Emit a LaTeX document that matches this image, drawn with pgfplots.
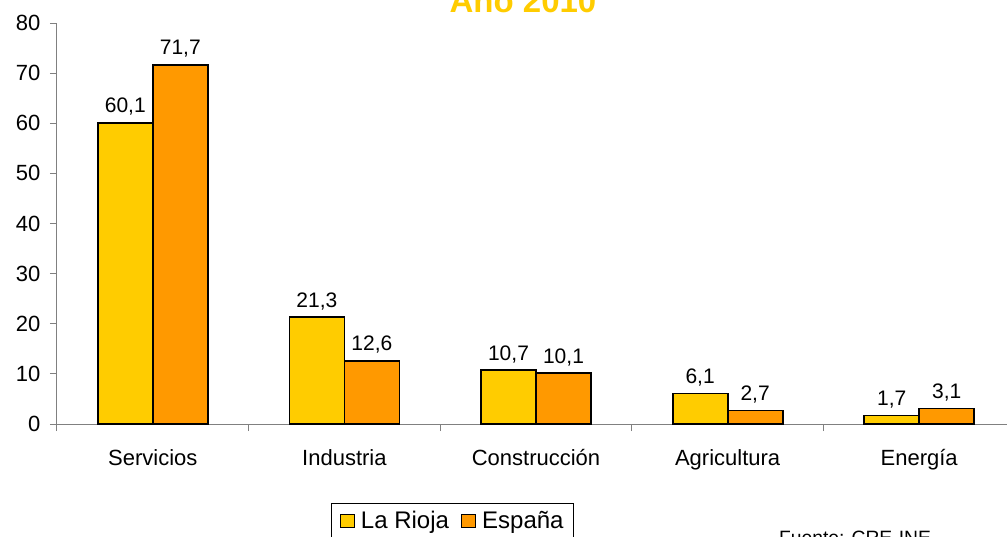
\documentclass[border=0pt]{standalone}
\usepackage{pgfplots}
\pgfplotsset{compat=1.18}
\usepackage{fontspec}
\setmainfont{Liberation Sans}
\definecolor{cyel}{RGB}{255,204,0}
\definecolor{corg}{RGB}{255,153,0}
\definecolor{axgray}{RGB}{128,128,128}
\begin{document}
\begin{tikzpicture}[x=1pt,y=1pt]
\path[use as bounding box] (0,0) rectangle (1007,536);
\begin{axis}[
  at={(57pt,112pt)}, anchor=south west, scale only axis,
  width=958pt, height=401pt,
  xmin=-0.5, xmax=4.5, ymin=0, ymax=80,
  ybar=0pt, bar width=55pt,
  xtick={0,...,4},
  xticklabels={Servicios,Industria,Construcción,Agricultura,Energía},
  minor xtick={-0.5,0.5,...,4.5},
  ytick={0,10,...,80},
  axis x line*=bottom, axis y line*=left,
  axis line style={-, draw=axgray, line width=1pt},
  tick align=outside,
  major tick length=7pt, minor tick length=7pt,
  x tick style={draw=none},
  minor x tick style={draw=axgray, line width=1pt},
  y tick style={draw=axgray, line width=1pt},
  /pgf/number format/assume math mode=true,
  ticklabel style={font=\fontsize{22}{26}\selectfont},
  xticklabel style={yshift=-15pt},
  yticklabel style={xshift=-6pt},
  nodes near coords,
  nodes near coords style={/pgf/number format/use comma, /pgf/number format/fixed, /pgf/number format/fixed zerofill, /pgf/number format/precision=1, /pgf/number format/assume math mode=true},
  every node near coord/.append style={font=\fontsize{21}{24}\selectfont, yshift=3pt, black},
  legend columns=2,
  legend style={at={(0.413,-0.197)}, anchor=north, draw=black, line width=0.8pt,
    font=\fontsize{24}{28}\selectfont, inner xsep=8pt, inner ysep=6pt,
    nodes={inner sep=2pt},
    /tikz/every odd column/.append style={column sep=4pt},
    /tikz/every even column/.append style={column sep=10pt}},
]
\addplot[fill=cyel, draw=black, line width=1.8pt,
  legend image code/.code={\draw[fill=cyel,draw=black,line width=1.2pt] (0pt,-6.5pt) rectangle (14pt,6.5pt);}]
  coordinates {(0,60.1) (1,21.3) (2,10.7) (3,6.1) (4,1.7)};
\addplot[fill=corg, draw=black, line width=1.8pt,
  legend image code/.code={\draw[fill=corg,draw=black,line width=1.2pt] (0pt,-6.5pt) rectangle (14pt,6.5pt);}]
  coordinates {(0,71.7) (1,12.6) (2,10.1) (3,2.7) (4,3.1)};
\legend{La Rioja, España}
\end{axis}
\node[anchor=base, text=cyel, font=\fontsize{33}{38}\selectfont\bfseries] at (523,523) {Año 2010};
\node[anchor=base, font=\fontsize{19.3}{22}\selectfont] at (855,-8) {Fuente: CRE-INE};
\end{tikzpicture}
\end{document}
